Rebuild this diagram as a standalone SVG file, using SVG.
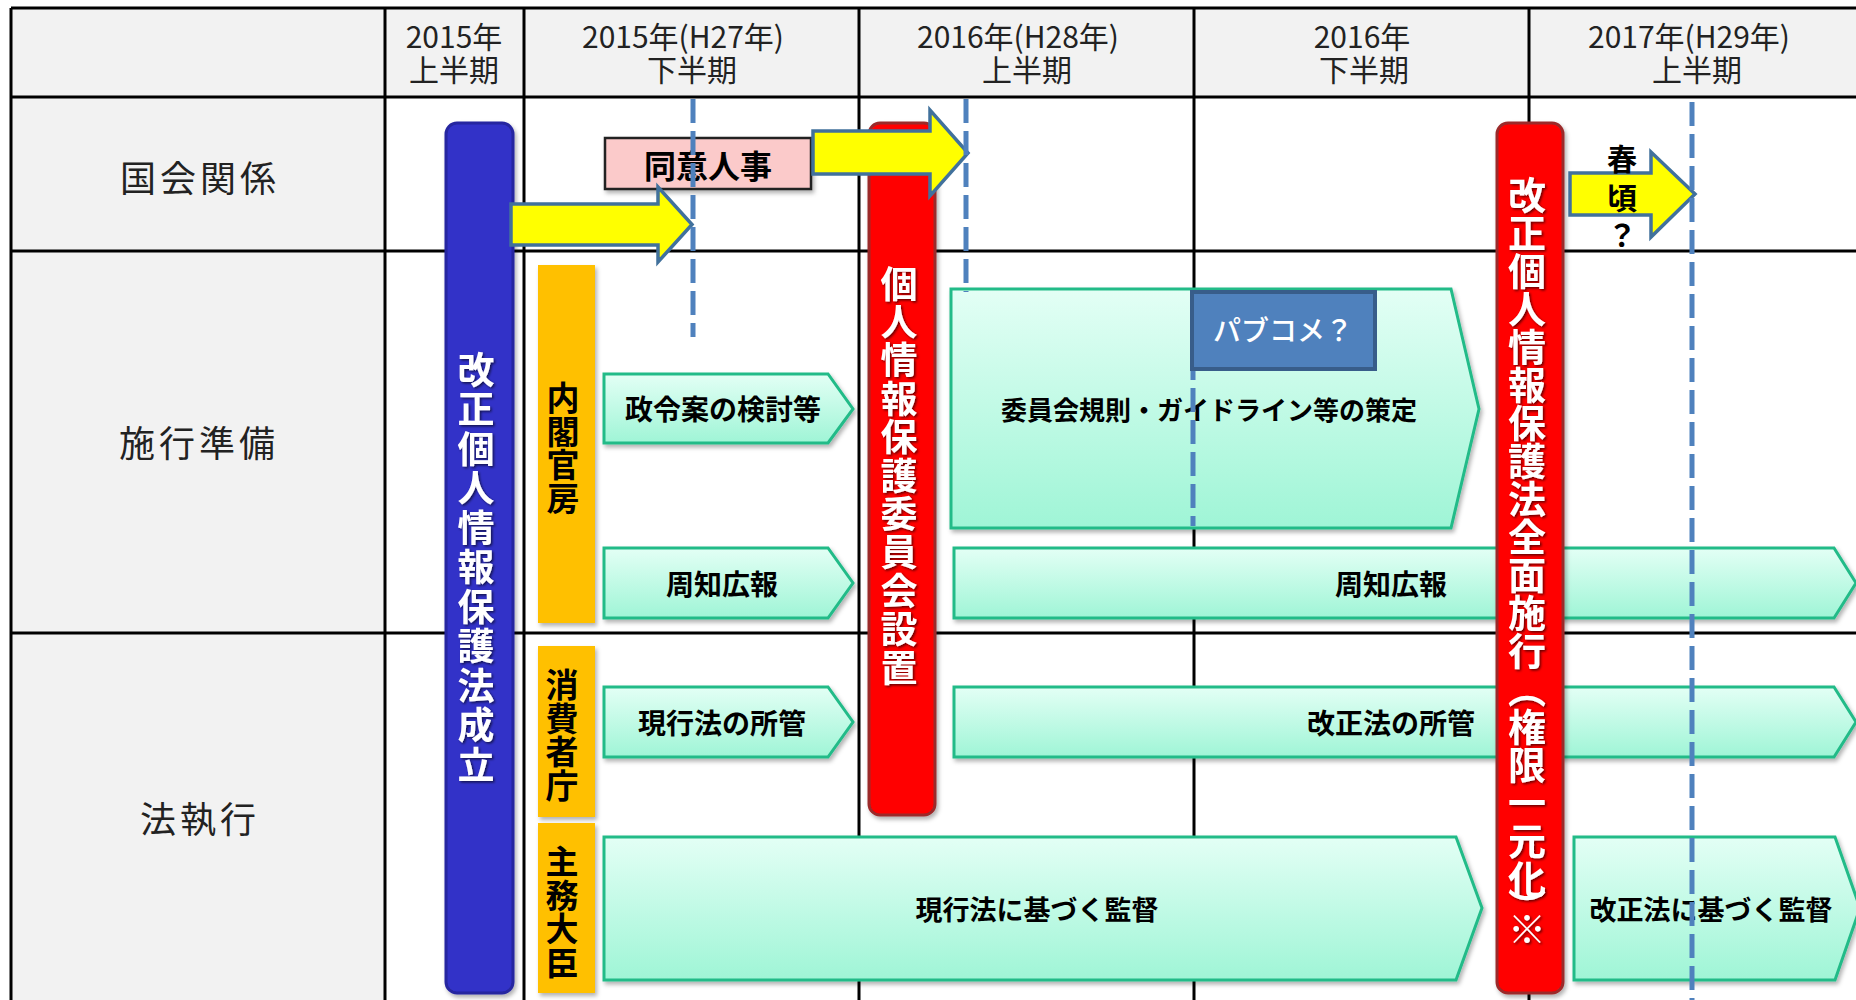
<svg xmlns="http://www.w3.org/2000/svg" width="1856" height="1000" viewBox="0 0 1856 1000">
<style>
  text { font-family: "Noto Sans CJK JP", "Noto Sans", sans-serif; }
  .hd { font-size: 30px; fill: #222; text-anchor: middle; }
  .rl { font-size: 36px; fill: #222; text-anchor: middle; letter-spacing: 4px; }
  .grid { stroke: #000; stroke-width: 3; fill: none; }
  .chev { fill: url(#gg); stroke: #22bb88; stroke-width: 3; filter: url(#sh); }
  .ct { font-size: 28px; font-weight: bold; fill: #000; text-anchor: middle; }
  .org { fill: #ffc000; filter: url(#sh); }
  .ot { font-size: 33px; font-weight: bold; fill: #000; writing-mode: vertical-rl; text-orientation: upright; letter-spacing: 0.5px; }
  .bar-b { fill: #3232c8; stroke: #2626a0; stroke-width: 3; filter: url(#sh); }
  .bar-r { fill: #ff0000; stroke: #9b2a2a; stroke-width: 3; filter: url(#sh); }
  .bt { font-weight: bold; fill: #fff; writing-mode: vertical-rl; text-orientation: upright; filter: url(#tsh); }
  .ya { fill: #ffff00; stroke: #41719c; stroke-width: 3.5; stroke-linejoin: miter; }
  .dash { stroke: #4f81bd; stroke-width: 5; stroke-dasharray: 24 8; fill: none; }
  .yt { font-size: 30px; font-weight: bold; fill: #000; text-anchor: middle; }
</style>
<defs>
  <linearGradient id="gg" x1="0" y1="0" x2="0" y2="1">
    <stop offset="0" stop-color="#e3fff5"/>
    <stop offset="1" stop-color="#9ff5d6"/>
  </linearGradient>
  <filter id="sh" x="-10%" y="-10%" width="130%" height="130%">
    <feDropShadow dx="2" dy="3" stdDeviation="2" flood-color="#000" flood-opacity="0.3"/>
  </filter>
  <filter id="tsh" x="-20%" y="-5%" width="140%" height="110%">
    <feDropShadow dx="1.5" dy="1.5" stdDeviation="1" flood-color="#000" flood-opacity="0.6"/>
  </filter>
</defs>

<g id="table">
  <rect x="0" y="0" width="1856" height="1000" fill="#fff"/>
  <rect x="11" y="8" width="1845" height="89" fill="#f2f2f2"/>
  <rect x="11" y="8" width="374" height="992" fill="#f2f2f2"/>
  <line class="grid" x1="11" y1="8" x2="1856" y2="8"/>
  <line class="grid" x1="11" y1="97" x2="1856" y2="97"/>
  <line class="grid" x1="11" y1="251" x2="1856" y2="251"/>
  <line class="grid" x1="11" y1="633" x2="1856" y2="633"/>
  <line class="grid" x1="11" y1="8" x2="11" y2="1000"/>
  <line class="grid" x1="385" y1="8" x2="385" y2="1000"/>
  <line class="grid" x1="524" y1="8" x2="524" y2="1000"/>
  <line class="grid" x1="859" y1="8" x2="859" y2="1000"/>
  <line class="grid" x1="1194" y1="8" x2="1194" y2="1000"/>
  <line class="grid" x1="1529" y1="8" x2="1529" y2="1000"/>
  <text class="hd"><tspan x="454" y="48">2015年</tspan><tspan x="454" y="81">上半期</tspan></text>
  <text class="hd"><tspan x="683" y="48">2015年(H27年)</tspan><tspan x="692" y="81">下半期</tspan></text>
  <text class="hd"><tspan x="1018" y="48">2016年(H28年)</tspan><tspan x="1027" y="81">上半期</tspan></text>
  <text class="hd"><tspan x="1362" y="48">2016年</tspan><tspan x="1364" y="81">下半期</tspan></text>
  <text class="hd"><tspan x="1689" y="48">2017年(H29年)</tspan><tspan x="1697" y="81">上半期</tspan></text>
  <text class="rl" x="200" y="192">国会関係</text>
  <text class="rl" x="199" y="457">施行準備</text>
  <text class="rl" x="200" y="833">法執行</text>
</g>

<g id="n-seirei">
  <polygon class="chev" points="604,374 828,374 853,409 828,443 604,443"/>
  <text class="ct" x="723" y="420">政令案の検討等</text>
</g>
<g id="n-shuchi1">
  <polygon class="chev" points="604,548 828,548 853,583 828,618 604,618"/>
  <text class="ct" x="722" y="595">周知広報</text>
</g>
<g id="n-kisoku">
  <polygon class="chev" points="951,289 1451,289 1479,409 1451,528 951,528"/>
  <text class="ct" x="1209" y="420" style="font-size:26px">委員会規則・ガイドライン等の策定</text>
</g>
<g id="n-shuchi2">
  <polygon class="chev" points="954,548 1834,548 1856,583 1834,618 954,618"/>
  <text class="ct" x="1391" y="595">周知広報</text>
</g>
<g id="n-genkoshokan">
  <polygon class="chev" points="604,687 828,687 853,722 828,757 604,757"/>
  <text class="ct" x="722" y="734">現行法の所管</text>
</g>
<g id="n-kaiseishokan">
  <polygon class="chev" points="954,687 1834,687 1856,722 1834,757 954,757"/>
  <text class="ct" x="1391" y="734">改正法の所管</text>
</g>
<g id="n-genkokantoku">
  <polygon class="chev" points="604,837 1456,837 1482,908 1456,980 604,980"/>
  <text class="ct" x="1037" y="920" style="font-size:27px">現行法に基づく監督</text>
</g>
<g id="n-kaiseikantoku">
  <polygon class="chev" points="1574,837 1835,837 1860,908 1835,980 1574,980"/>
  <text class="ct" x="1711" y="920" style="font-size:27px">改正法に基づく監督</text>
</g>

<g id="n-naikaku">
  <rect class="org" x="538" y="265" width="57" height="358"/>
  <text class="ot" x="563" y="381">内閣官房</text>
</g>
<g id="n-shohisha">
  <rect class="org" x="538" y="646" width="57" height="171"/>
  <text class="ot" x="562" y="668">消費者庁</text>
</g>
<g id="n-shumu">
  <rect class="org" x="538" y="823" width="57" height="170"/>
  <text class="ot" x="562" y="845">主務大臣</text>
</g>

<g id="n-doi">
  <rect x="605" y="138" width="206" height="51" fill="#fbcaca" stroke="#222" stroke-width="2.5" filter="url(#sh)"/>
  <text x="708" y="178" style="font-size:32px;font-weight:bold;fill:#000;text-anchor:middle">同意人事</text>
</g>

<g id="n-seiritsu">
  <rect class="bar-b" x="446" y="123" width="67" height="870" rx="11"/>
  <text class="bt" x="476" y="351" style="font-size:37px;letter-spacing:2.5px">改正個人情報保護法成立</text>
</g>
<g id="n-iinkai">
  <rect class="bar-r" x="869" y="123" width="66" height="692" rx="11"/>
  <text class="bt" x="899" y="265" style="font-size:37px;letter-spacing:1.4px">個人情報保護委員会設置</text>
</g>
<g id="n-zenmen">
  <rect class="bar-r" x="1497" y="123" width="66" height="870" rx="11"/>
  <text class="bt" x="1527" y="176" style="font-size:38px">改正個人情報保護法全面施行（権限一元化<tspan y="888">）</tspan><tspan y="910">※</tspan></text>
</g>

<g id="connectors">
  <polygon class="ya" points="511,204 658,204 658,187 692,224.5 658,262 658,245 511,245"/>
  <polygon class="ya" points="813,131 930,131 930,110 968,153 930,196 930,174 813,174"/>
  <polygon class="ya" points="1570,173 1651,173 1651,152 1695,194 1651,237 1651,215 1570,215"/>
  <line class="dash" x1="693" y1="99" x2="693" y2="337"/>
  <line class="dash" x1="966" y1="99" x2="966" y2="292"/>
  <line class="dash" x1="1193" y1="292" x2="1193" y2="526"/>
  <line class="dash" x1="1692" y1="102" x2="1692" y2="1000"/>
</g>

<g id="n-pabukome">
  <rect x="1192" y="292" width="183" height="77" fill="#4f81bd" stroke="#385d8a" stroke-width="4"/>
  <text x="1283" y="341" style="font-size:28px;font-weight:500;fill:#fff;text-anchor:middle">パブコメ？</text>
</g>

<g id="n-haru">
  <text class="yt" x="1622" y="170">春</text>
  <text class="yt" x="1622" y="209">頃</text>
  <text class="yt" x="1622" y="246">？</text>
</g>
</svg>
